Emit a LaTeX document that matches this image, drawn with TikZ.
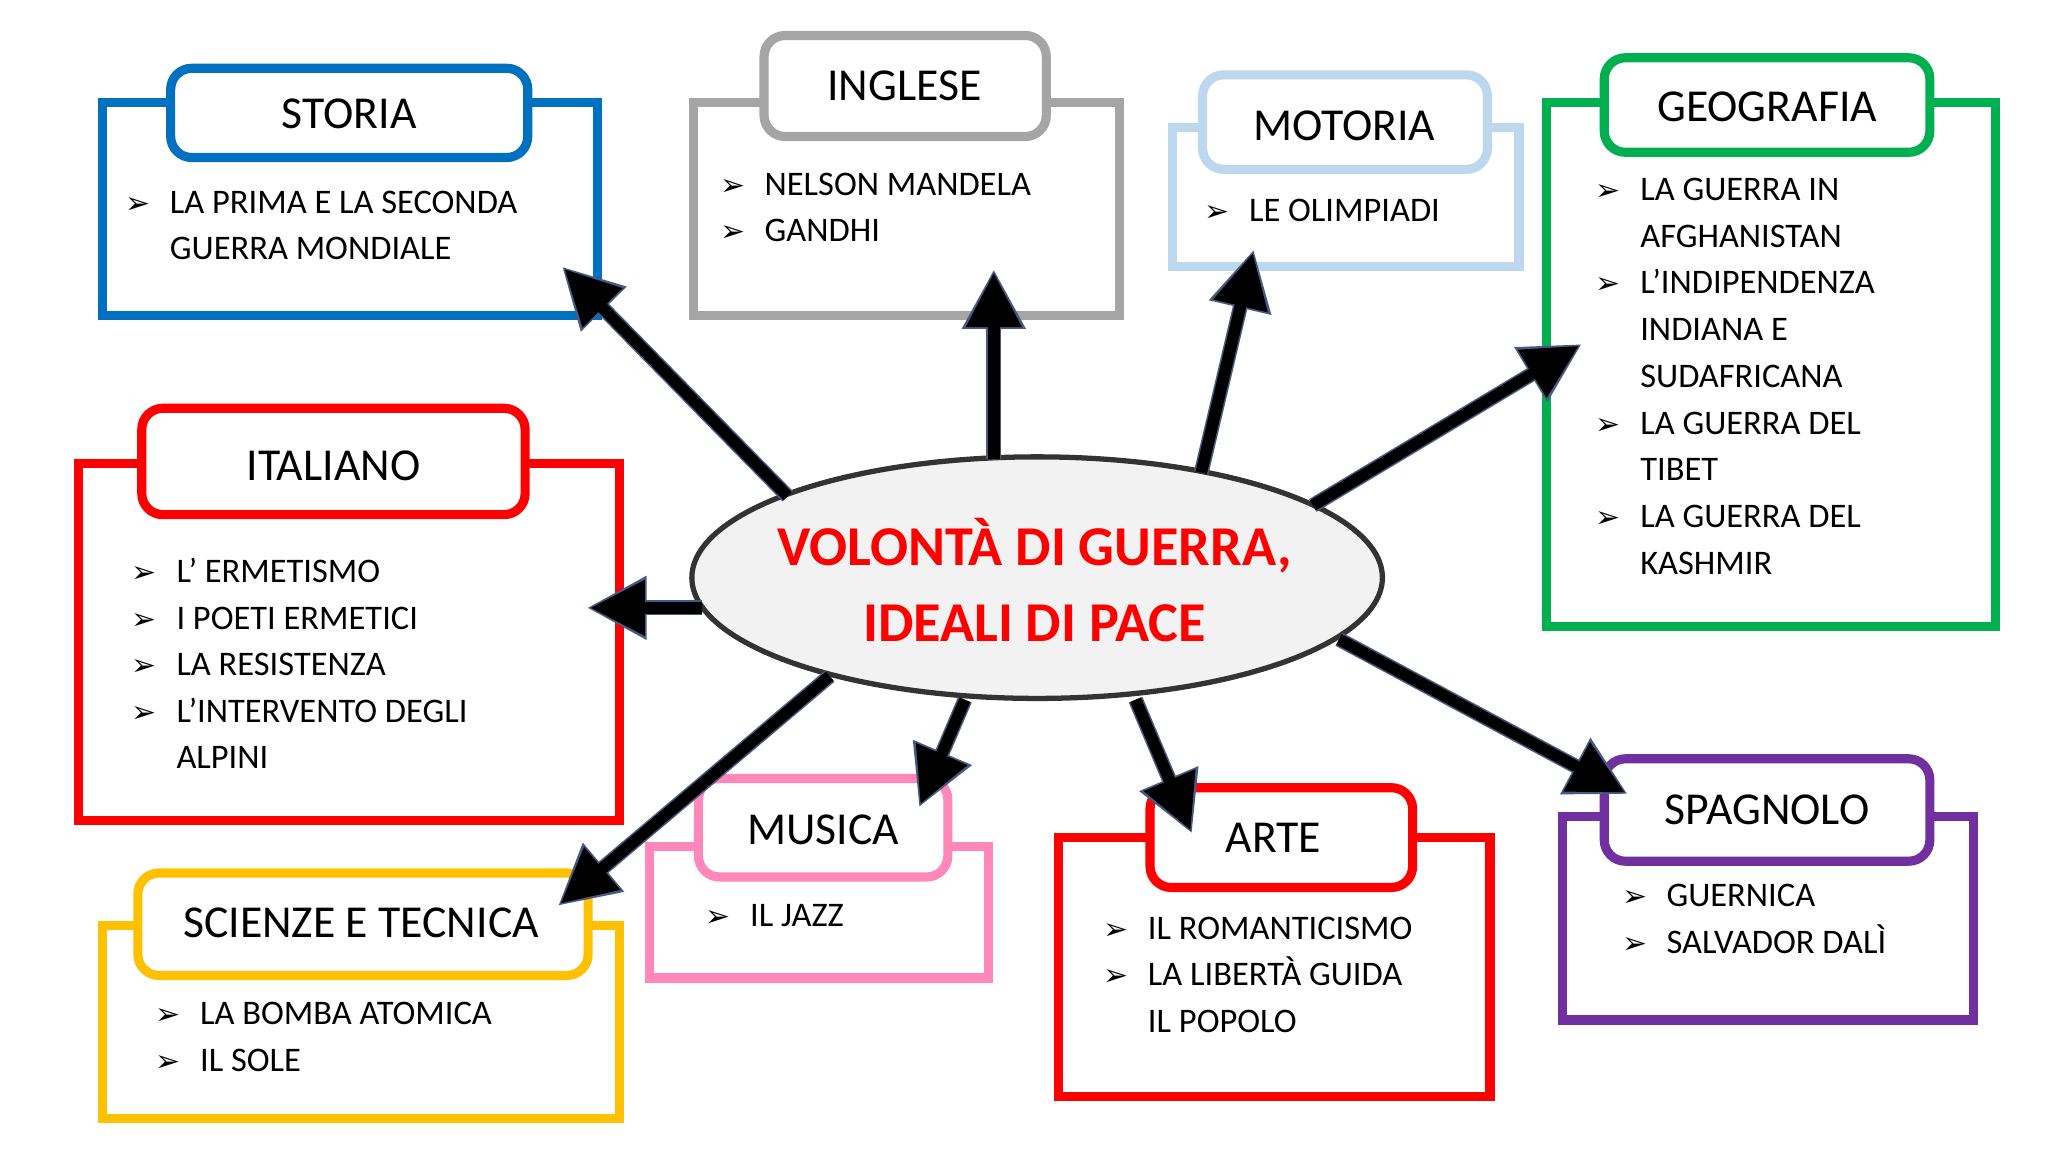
\documentclass[tikz,border=0pt]{standalone}
\usepackage{fontspec}
\setmainfont{Carlito}
\newfontfamily\djf{DejaVu Sans}
\usetikzlibrary{arrows.meta}
\definecolor{cblue}{RGB}{0,112,192}
\definecolor{cgray}{RGB}{165,165,165}
\definecolor{clblue}{RGB}{189,215,238}
\definecolor{cgreen}{RGB}{0,176,80}
\definecolor{cred}{RGB}{255,0,0}
\definecolor{cyel}{RGB}{255,192,0}
\definecolor{cpink}{RGB}{255,135,185}
\definecolor{cpurp}{RGB}{112,48,160}
\definecolor{aedge}{RGB}{70,90,130}
\newcommand\bl{\makebox[0.445cm][l]{\djf\fontsize{8.5pt}{13pt}\selectfont ➢}}
\newcommand\ind{\hspace*{0.445cm}}
\tikzset{
 outer/.style={line width=2.6pt},
 tabbox/.style={line width=2.6pt,rounded corners=6pt,fill=white},
 ttl/.style={font=\fontsize{13pt}{15pt}\selectfont},
 items/.style={anchor=north west,align=left,inner sep=0pt,font=\fontsize{9.8pt}{13.2pt}\selectfont},
 arr/.style={draw=aedge,line width=4.2pt,-{Triangle[length=17pt,width=17pt]}},
 arrin/.style={draw=black,line width=3.3pt,-{Triangle[length=15.5pt,width=15pt]}}
}
\newcommand\subj[9]{%
 \draw[outer,draw=#1] (#2,#3) rectangle (#4,#5);
 \draw[tabbox,draw=#1] (#6,#7) rectangle (#8,#9);}
\begin{document}
\begin{tikzpicture}[x=0.01313cm,y=-0.01313cm]
\useasboundingbox[fill=white] (0,0) rectangle (1560,877);
% STORIA
\subj{cblue}{78}{78}{455}{240}{130}{52}{402}{120}
\node[ttl] (tstoria) at (266,87) {STORIA};
\node[items] (istoria) at (95,145) {\bl LA PRIMA E LA SECONDA\\\ind GUERRA MONDIALE};
% INGLESE
\subj{cgray}{528}{78}{853}{240}{582}{27}{797}{104}
\node[ttl] (tingl) at (689,65) {INGLESE};
\node[items] (iingl) at (548,131) {\bl NELSON MANDELA\\\bl GANDHI};
% MOTORIA
\subj{clblue}{893}{97}{1157}{203}{916}{57}{1133}{129}
\node[ttl] (tmot) at (1024,96) {MOTORIA};
\node[items] (imot) at (917,151) {\bl LE OLIMPIADI};
% GEOGRAFIA
\subj{cgreen}{1178}{78}{1520}{477}{1222}{44}{1470}{116}
\node[ttl] (tgeo) at (1346,81) {GEOGRAFIA};
\node[items,font=\fontsize{9.8pt}{13.3pt}\selectfont] (igeo) at (1215,135) {\bl LA GUERRA IN\\\ind AFGHANISTAN\\\bl L’INDIPENDENZA\\\ind INDIANA E\\\ind SUDAFRICANA\\\bl LA GUERRA DEL\\\ind TIBET\\\bl LA GUERRA DEL\\\ind KASHMIR};
% ITALIANO
\subj{cred}{60}{353}{472}{625}{108}{311}{400}{392}
\node[ttl] (tita) at (254,355) {ITALIANO};
\node[items] (iita) at (100,425) {\bl L’ ERMETISMO\\\bl I POETI ERMETICI\\\bl LA RESISTENZA\\\bl L’INTERVENTO DEGLI\\\ind ALPINI};
% SCIENZE
\subj{cyel}{78}{705}{472}{852}{105}{665}{448}{743}
\node[ttl] (tsci) at (275,703) {SCIENZE E TECNICA};
\node[items] (isci) at (118,763) {\bl LA BOMBA ATOMICA\\\bl IL SOLE};
% MUSICA
\subj{cpink}{495}{645}{753}{745}{532}{593}{722}{668}
\node[ttl] (tmus) at (627,632) {MUSICA};
\node[items] (imus) at (537,688) {\bl IL JAZZ};
% ARTE
\subj{cred}{806}{638}{1135}{835}{876}{600}{1076}{676}
\node[ttl] (tarte) at (970,638) {ARTE};
\node[items] (iarte) at (840,698) {\bl IL ROMANTICISMO\\\bl LA LIBERTÀ GUIDA\\\ind IL POPOLO};
% SPAGNOLO
\subj{cpurp}{1190}{622}{1503}{777}{1222}{578}{1470}{656}
\node[ttl] (tspa) at (1346,617) {SPAGNOLO};
\node[items] (ispa) at (1235,673) {\bl GUERNICA\\\bl SALVADOR DALÌ};
% center
\draw[fill=black!5,draw=black!80,line width=1.5pt] (790,440) ellipse [x radius=263, y radius=92];
\node[align=center,text=cred,font=\bfseries\fontsize{16pt}{21.5pt}\selectfont] (center) at (788,442) {VOLONTÀ DI GUERRA,\\IDEALI DI PACE};
% arrow endpoints
\foreach \n/\a/\b/\c/\d in {s/600/378/428/203, i/757/350/757/205, m/915/360/955/190, g/1000/385/1205/262, it/535/463/447/463, sc/632/515/425/690, mu/735/533/700/615, ar/865/533/908/635, sp/1020/487/1240/605}{
 \coordinate (f\n) at (\a,\b); \coordinate (t\n) at (\c,\d);}
\foreach \n in {s,i,m,g,it,sc,mu,ar,sp}{\draw[arr] (f\n) -- (t\n);}
\foreach \n in {s,i,m,g,it,sc,mu,ar,sp}{\draw[arrin,shorten >=1pt] (f\n) -- (t\n);}
\end{tikzpicture}
\end{document}
